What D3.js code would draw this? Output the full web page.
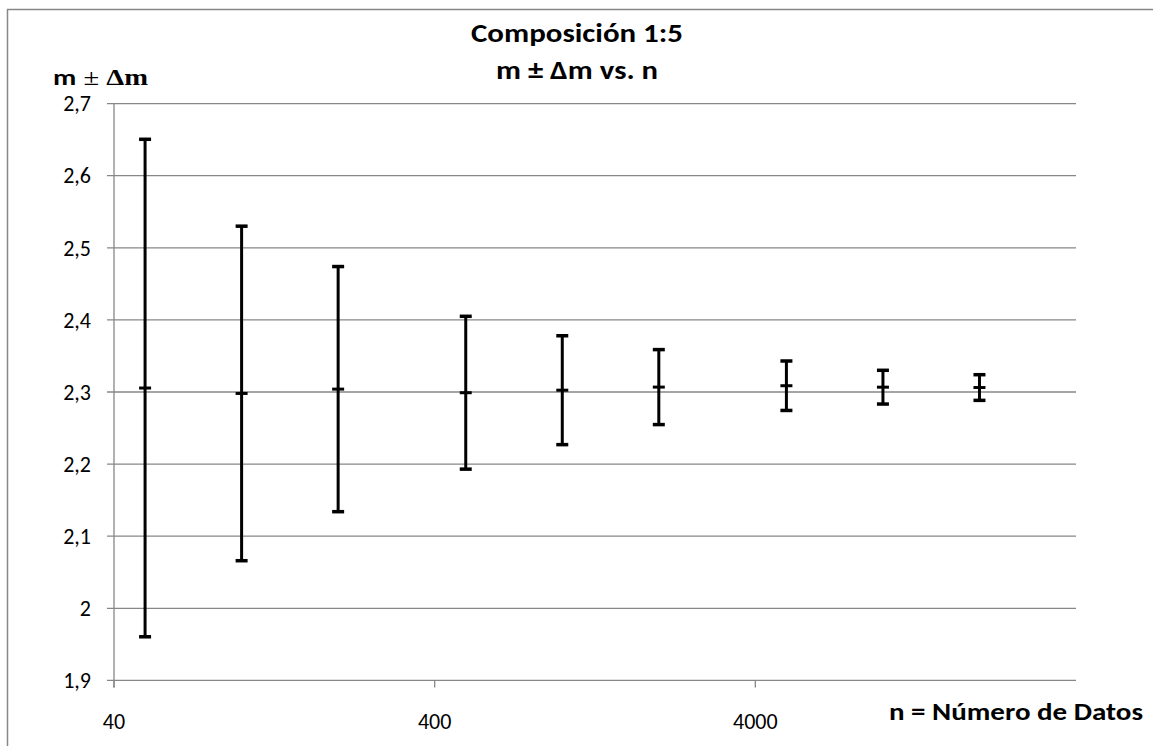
<!DOCTYPE html>
<html>
<head>
<meta charset="utf-8">
<script src="https://cdn.jsdelivr.net/npm/d3@7"></script>
<style>
  html, body { margin: 0; padding: 0; background: #fff; }
  svg { display: block; }
  text { font-family: Carlito, Calibri, Lato, "Liberation Sans", sans-serif; fill: #000; }
</style>
</head>
<body>
<svg id="chart" width="1153" height="746"></svg>
<script>
// ---- data ----
const nValues   = [50, 100, 200, 500, 1000, 2000, 5000, 10000, 20000];
const meanM     = [2.3055, 2.298, 2.304, 2.299, 2.3025, 2.3068, 2.3087, 2.3067, 2.3062];
const deltaM    = [0.345, 0.232, 0.170, 0.106, 0.0755, 0.052, 0.0343, 0.0234, 0.0178];
const yTicks    = [1.9, 2.0, 2.1, 2.2, 2.3, 2.4, 2.5, 2.6, 2.7];
const xTicks    = [40, 400, 4000];
const titleLines = ["Composición 1:5", "m ± Δm vs. n"];
const xTitle    = "n = Número de Datos";

const svg = d3.select("#chart");
const W = 1153, H = 746;
const plot = { left: 114, right: 1076, top: 103.6, bottom: 680.4 };
const gridColor = "#878787";

// outer frame
svg.append("rect")
  .attr("x", 7.5).attr("y", 9.5)
  .attr("width", W).attr("height", H)
  .attr("fill", "none").attr("stroke", gridColor).attr("stroke-width", 1.5);

const x = d3.scaleLog().domain([40, 40000]).range([plot.left, plot.right]);
const y = d3.scaleLinear().domain([1.9, 2.7]).range([plot.bottom, plot.top]);

// gridlines
svg.append("g").selectAll("line").data(yTicks).join("line")
  .attr("x1", plot.left - 7).attr("x2", plot.right)
  .attr("y1", d => y(d)).attr("y2", d => y(d))
  .attr("stroke", gridColor).attr("stroke-width", 1.3);

// y axis line
svg.append("line")
  .attr("x1", plot.left).attr("x2", plot.left)
  .attr("y1", plot.top).attr("y2", plot.bottom + 7)
  .attr("stroke", gridColor).attr("stroke-width", 1.3);

// x axis ticks
svg.append("g").selectAll("line").data(xTicks).join("line")
  .attr("x1", d => x(d)).attr("x2", d => x(d))
  .attr("y1", plot.bottom).attr("y2", plot.bottom + 7)
  .attr("stroke", gridColor).attr("stroke-width", 1.3);

// y tick labels
const fmt = d => d3.format(".1f")(d).replace(".", ",").replace(/,0$/, "");
svg.append("g").selectAll("text").data(yTicks).join("text")
  .attr("x", 91).attr("y", d => y(d))
  .attr("dy", "0.35em")
  .attr("text-anchor", "end")
  .attr("font-size", 22)
  .text(fmt);

// x tick labels
svg.append("g").selectAll("text").data(xTicks).join("text")
  .attr("x", d => x(d)).attr("y", 729)
  .attr("text-anchor", "middle")
  .attr("font-size", 22)
  .text(d => d);

// error bars
const capW = 6;
const g = svg.append("g");
const rows = nValues.map((n, i) => ({ n, m: meanM[i], d: deltaM[i] }));
g.selectAll("line.v").data(rows).join("line").attr("class", "v")
  .attr("x1", d => x(d.n)).attr("x2", d => x(d.n))
  .attr("y1", d => y(d.m + d.d)).attr("y2", d => y(d.m - d.d))
  .attr("stroke", "#000").attr("stroke-width", 3);
g.selectAll("line.top").data(rows).join("line").attr("class", "top")
  .attr("x1", d => x(d.n) - capW).attr("x2", d => x(d.n) + capW)
  .attr("y1", d => y(d.m + d.d)).attr("y2", d => y(d.m + d.d))
  .attr("stroke", "#000").attr("stroke-width", 3.5);
g.selectAll("line.bot").data(rows).join("line").attr("class", "bot")
  .attr("x1", d => x(d.n) - capW).attr("x2", d => x(d.n) + capW)
  .attr("y1", d => y(d.m - d.d)).attr("y2", d => y(d.m - d.d))
  .attr("stroke", "#000").attr("stroke-width", 3.5);
g.selectAll("line.mid").data(rows).join("line").attr("class", "mid")
  .attr("x1", d => x(d.n) - capW).attr("x2", d => x(d.n) + capW)
  .attr("y1", d => y(d.m)).attr("y2", d => y(d.m))
  .attr("stroke", "#000").attr("stroke-width", 3);

// title
const titleLen = [212, 162];
svg.append("g").selectAll("text").data(titleLines).join("text")
  .attr("x", 577).attr("y", (d, i) => [41.5, 78.5][i])
  .attr("text-anchor", "middle")
  .attr("font-size", 26).attr("font-weight", "bold")
  .attr("textLength", (d, i) => titleLen[i])
  .attr("lengthAdjust", "spacingAndGlyphs")
  .text(d => d);

// y axis title: "m ± Δm"
const yt = svg.append("text").attr("x", 53).attr("y", 85).attr("font-size", 23).attr("font-weight", "bold")
  .attr("textLength", 95).attr("lengthAdjust", "spacingAndGlyphs");
yt.append("tspan").text("m");
yt.append("tspan").attr("font-family", "'Liberation Serif', 'Times New Roman', serif").attr("font-weight", "normal").text(" ± ");
yt.append("tspan").attr("font-family", "'Liberation Serif', 'Times New Roman', serif").text("Δm");

// x axis title
svg.append("text")
  .attr("x", 889).attr("y", 720)
  .attr("font-size", 24).attr("font-weight", "bold")
  .attr("textLength", 254).attr("lengthAdjust", "spacingAndGlyphs")
  .text(xTitle);
</script>
</body>
</html>
